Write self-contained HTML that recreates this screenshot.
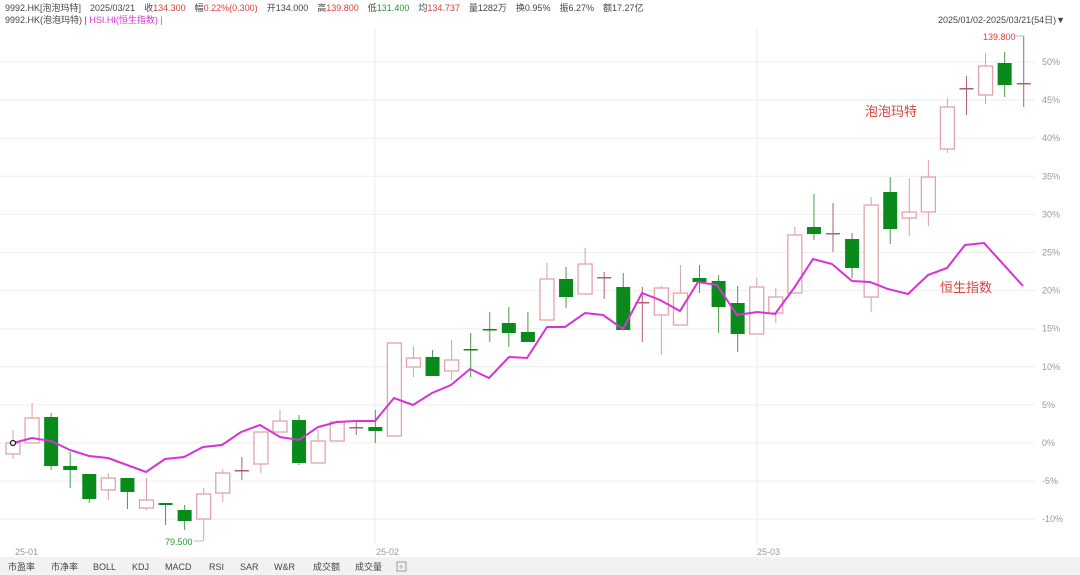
<!DOCTYPE html>
<html><head><meta charset="utf-8"><style>
body{margin:0;background:#fff;width:1080px;height:575px;overflow:hidden;font-family:"Liberation Sans","Noto Sans CJK SC",sans-serif}
svg{position:absolute;left:0;top:0}
</style></head><body>
<svg id="s" width="1080" height="575" xmlns="http://www.w3.org/2000/svg" font-family="Liberation Sans, Noto Sans CJK SC, sans-serif">
<rect x="0" y="557" width="1080" height="18" fill="#f2f2f2"/>
<text x="5" y="11" font-size="9" fill="#444">9992.HK[泡泡玛特]　2025/03/21　收<tspan fill="#d9403a">134.300</tspan>　幅<tspan fill="#d9403a">0.22%(0.300)</tspan>　开134.000　高<tspan fill="#d9403a">139.800</tspan>　低<tspan fill="#2a9a2a">131.400</tspan>　均<tspan fill="#d9403a">134.737</tspan>　量1282万　换0.95%　振6.27%　额17.27亿</text>
<text x="5" y="23" font-size="9" fill="#444">9992.HK(泡泡玛特) | <tspan fill="#d633d6">HSI.HI(恒生指数) |</tspan></text>
<text x="938" y="23" font-size="9" fill="#444">2025/01/02-2025/03/21(54日)▼</text>
<text x="865" y="116" font-size="13" fill="#d9403a">泡泡玛特</text>
<text x="940" y="292" font-size="13" fill="#d9403a">恒生指数</text>
<text x="165" y="545" font-size="9" fill="#2a9a2a">79.500</text>
<line x1="194" y1="541" x2="203" y2="541" stroke="#bbb"/>
<text x="983" y="40" font-size="9" fill="#d9403a">139.800</text>
<line x1="1015" y1="36" x2="1023" y2="36" stroke="#bbb"/>
<g font-size="9" fill="#999">
<text x="15" y="555">25-01</text><text x="376" y="555">25-02</text><text x="757" y="555">25-03</text>
</g>
<g font-size="9" fill="#444">
<text x="8" y="570">市盈率</text><text x="51" y="570">市净率</text><text x="93" y="570">BOLL</text><text x="132" y="570">KDJ</text><text x="165" y="570">MACD</text><text x="209" y="570">RSI</text><text x="240" y="570">SAR</text><text x="274" y="570">W&amp;R</text><text x="313" y="570">成交额</text><text x="355" y="570">成交量</text>
</g>
<rect x="397" y="562" width="9" height="9" fill="none" stroke="#999"/><text x="398.5" y="570" font-size="9" fill="#999">+</text>
</svg>
<script>
var s=document.getElementById('s'),N='http://www.w3.org/2000/svg';
function el(t,a){var e=document.createElementNS(N,t);for(var k in a)e.setAttribute(k,a[k]);s.insertBefore(e,s.children[1]);return e;}
var g='';
for(var k=-2;k<=10;k++){var y=443-k*38.1;
 g+='<line x1="0" y1="'+y+'" x2="1035" y2="'+y+'" stroke="#eee"/>';
 g+='<text x="1042" y="'+(y+3)+'" font-size="9" fill="#999">'+(k*5)+'%</text>';}
[375,757].forEach(function(x){g+='<line x1="'+x+'" y1="28" x2="'+x+'" y2="545" stroke="#eee"/>';});
// candles: [o,c,h,l,up]
var C=[[454,443,430,459,1],[443,418,403,443,1],[417,466,413,470,0],[466,470,452,488,0],[474,499,474,503,0],[490,478,473,500,1],[478,492,478,509,0],[508,500,478,510,1],[503,505,503,525,0],[510,521,505,530,0],
[519,494,488,541,1],[493,473,469,502,1],[470,470,457,480,1],[464,432,432,473,1],[432,421,410,432,1],[420,463,415,465,0],[463,441,430,463,1],[441,422,420,441,1],[427,427,422,435,1],[427,431,410,443,0],
[436,343,343,436,1],[367,358,346,377,1],[357,376,350,376,0],[371,360,340,380,1],[349,349,333,377,0],[329,329,312,342,0],[323,333,307,347,0],[332,342,312,342,0],[320,279,263,320,1],[279,297,267,308,0],
[294,264,248,294,1],[277,277,272,299,1],[287,330,273,330,0],[302,302,287,342,1],[315,288,286,355,1],[325,293,265,325,1],[278,282,265,293,0],[281,307,275,333,0],[303,334,286,352,0],[334,287,278,334,1],
[313,297,288,323,1],[293,235,227,293,1],[227,234,194,240,0],[233,233,203,252,1],[239,268,233,278,0],[297,205,197,312,1],[192,229,177,244,0],[218,212,178,236,1],[212,177,160,226,1],[149,107,98,153,1],
[88,88,76,115,1],[95,66,53,104,1],[63,85,52,97,0],[83,83,36,107,1]];
C.forEach(function(c,i){var x=13+i*19.07,col=c[4]?'#e2a3aa':'#0a8a1a',top=Math.min(c[0],c[1]),h=Math.max(Math.abs(c[0]-c[1]),1.5);
 var wc=c[4]?(c[0]==c[1]?'#b06070':'#d9a0a8'):'#4a9a4a';
 g+='<line x1="'+x+'" y1="'+c[2]+'" x2="'+x+'" y2="'+c[3]+'" stroke="'+wc+'"/>';
 if(c[4]&&c[0]!=c[1])g+='<rect x="'+(x-7)+'" y="'+top+'" width="14" height="'+h+'" fill="#fff" stroke="'+col+'" stroke-width="1.3"/>';
 else g+='<rect x="'+(x-7)+'" y="'+top+'" width="14" height="'+h+'" fill="'+(c[4]?'#b06070':col)+'"/>';});
var L=[[13,443],[32,438],[51,441],[70,450],[89,456],[108,458],[127,465],[146,472],[165,459],[184,457],[203,447],[222,445],[241,432],[260,425],[280,437],[299,440],[318,427],[337,422],[356,421],[375,421],[394,398],[413,405],[432,393],[451,385],[470,369],[489,378],[509,357],[527,358],[547,327],[565,327],[585,313],[603,315],[623,329],[642,293],[660,300],[680,311],[698,282],[717,285],[737,315],[757,312],[775,314],[794,288],[813,259],[832,264],[852,281],[870,282],[888,289],[908,294],[928,275],[947,268],[965,245],[984,243],[1023,286]];
g+='<polyline fill="none" stroke="#d633d6" stroke-width="2" points="'+L.map(function(p){return p.join(',')}).join(' ')+'"/>';
g+='<circle cx="13" cy="443" r="2.5" fill="#fff" stroke="#222" stroke-width="1.3"/>';
var d=document.createElementNS(N,'g');d.innerHTML=g;s.insertBefore(d,s.children[1]);
</script>
</body></html>
